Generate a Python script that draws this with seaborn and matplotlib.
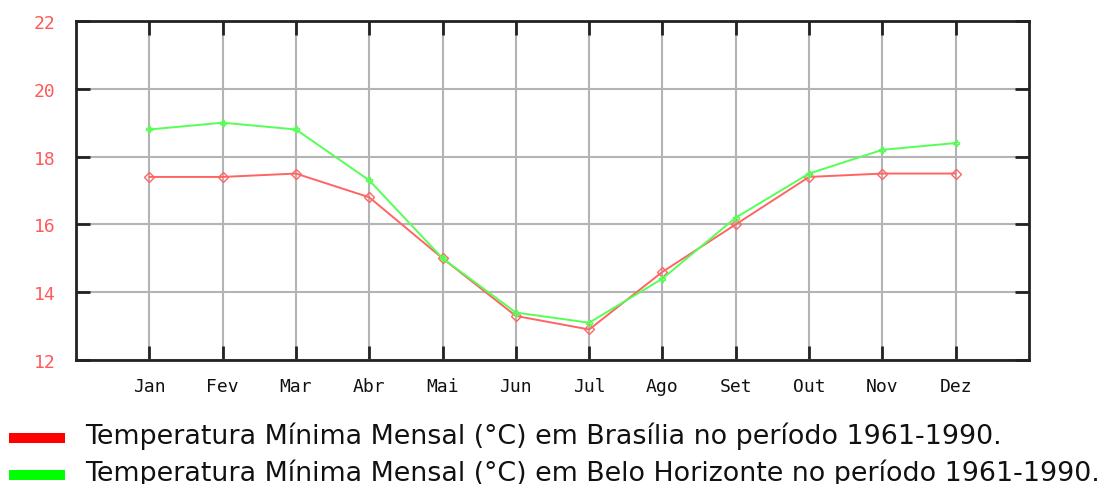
import matplotlib
matplotlib.use("Agg")
import matplotlib.pyplot as plt
from matplotlib.patches import Rectangle
import seaborn as sns
import pandas as pd

months = ["Jan", "Fev", "Mar", "Abr", "Mai", "Jun", "Jul", "Ago", "Set", "Out", "Nov", "Dez"]
brasilia = [17.4, 17.4, 17.5, 16.8, 15.0, 13.3, 12.9, 14.6, 16.0, 17.4, 17.5, 17.5]
belo_horizonte = [18.8, 19.0, 18.8, 17.3, 15.0, 13.4, 13.1, 14.4, 16.2, 17.5, 18.2, 18.4]
y_ticks = [12, 14, 16, 18, 20, 22]
legend_labels = [
    "Temperatura Mínima Mensal (°C) em Brasília no período 1961-1990.",
    "Temperatura Mínima Mensal (°C) em Belo Horizonte no período 1961-1990.",
]

red_line = "#ff6464"
green_line = "#55ff55"

df = pd.DataFrame({
    "mes": list(range(1, 13)) * 2,
    "temp": brasilia + belo_horizonte,
    "cidade": ["Brasília"] * 12 + ["Belo Horizonte"] * 12,
})

sns.set_style("white")
plt.rcParams["font.family"] = ["DejaVu Sans"]

fig = plt.figure(figsize=(11.04, 4.85), dpi=100)
ax = fig.add_axes([76 / 1104, 1 - 361 / 485, (1029 - 76) / 1104, (361 - 22) / 485])

sns.lineplot(data=df, x="mes", y="temp", hue="cidade", style="cidade",
             palette={"Brasília": red_line, "Belo Horizonte": green_line},
             markers={"Brasília": "D", "Belo Horizonte": "P"},
             dashes=False, linewidth=1.4, markersize=5,
             markeredgewidth=1.0, legend=False, ax=ax, zorder=3)
for ln, col in zip(ax.lines, [red_line, green_line]):
    ln.set_markerfacecolor("none")
    ln.set_markeredgecolor(col)

ax.set_xlim(0, 13)
ax.set_ylim(12, 22)
ax.set_xticks(range(1, 13))
ax.set_xticklabels(months)
ax.set_yticks(y_ticks)
ax.set_yticklabels([str(v) for v in y_ticks])
ax.set_xlabel("")
ax.set_ylabel("")

ax.grid(True, color="#b4b4b4", linewidth=1.5, zorder=0)
ax.set_axisbelow(True)
for sp in ax.spines.values():
    sp.set_visible(True)
    sp.set_color("#222222")
    sp.set_linewidth(2)

ax.tick_params(axis="both", direction="in", length=10, width=2, color="#222222",
               top=True, right=True, bottom=True, left=True,
               labeltop=False, labelright=False)
ax.tick_params(axis="x", pad=12, labelsize=13, labelcolor="#111111")
ax.tick_params(axis="y", pad=15, labelsize=13, labelcolor="#ff5a5a")
for lbl in ax.get_xticklabels() + ax.get_yticklabels():
    lbl.set_fontfamily("DejaVu Sans Mono")

# legend rows below the chart
for i, (lab, col) in enumerate(zip(legend_labels, ["#ff0000", "#00ff00"])):
    base = 444 + 37 * i
    fig.add_artist(Rectangle((9 / 1104, 1 - (base) / 485), 56 / 1104, 10 / 485,
                             transform=fig.transFigure, color=col, lw=0))
    fig.text(85 / 1104, 1 - base / 485, lab, fontsize=19.4, color="#111111",
             va="baseline", ha="left")

fig.savefig("out.png", dpi=100, facecolor="white")
